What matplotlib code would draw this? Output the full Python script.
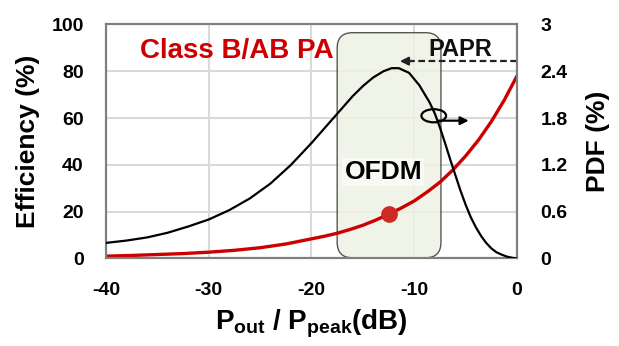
import matplotlib
matplotlib.use("Agg")
import matplotlib.pyplot as plt
from matplotlib.patches import FancyBboxPatch, Ellipse

plt.rcParams["font.family"] = ["Liberation Sans", "DejaVu Sans"]
plt.rcParams["font.weight"] = "bold"
plt.rcParams["axes.labelweight"] = "bold"
plt.rcParams["axes.unicode_minus"] = False
plt.rcParams["mathtext.fontset"] = "custom"
plt.rcParams["mathtext.rm"] = "Liberation Sans:bold"
plt.rcParams["mathtext.bf"] = "Liberation Sans:bold"
plt.rcParams["mathtext.it"] = "Liberation Sans:bold"

# efficiency of class B/AB PA (%)
eff_x = [-40, -37.5, -35, -32.5, -30, -27.5, -25, -22.5, -20, -18.75, -17.5,
         -16.25, -15, -13.75, -12.5, -11.25, -10, -8.75, -7.5, -6.25, -5,
         -3.75, -2.5, -1.25, 0]
eff_y = [1.0, 1.3, 1.7, 2.1, 2.7, 3.5, 4.6, 6.2, 8.4, 9.5, 10.8,
         12.4, 14.2, 16.4, 18.9, 21.6, 24.6, 28.4, 32.6, 37.8, 43.8,
         50.6, 58.5, 67.6, 78.0]

# OFDM signal PDF (%)
pdf_x = [-40, -38, -36, -34, -32, -30, -28, -26, -24, -22, -20, -19, -18, -17,
         -16, -15, -14, -13, -12.2, -11.5, -10.5, -9.5, -8.5, -8, -7.5, -7, -6.5,
         -6, -5.5, -5, -4.5, -4, -3.5, -3, -2.5, -2, -1.5, -1, -0.5, 0]
pdf_y = [0.20, 0.23, 0.27, 0.33, 0.41, 0.50, 0.62, 0.77, 0.96, 1.20, 1.48, 1.63,
         1.78, 1.93, 2.08, 2.21, 2.32, 2.40, 2.44, 2.44, 2.38, 2.22, 2.00, 1.86,
         1.68, 1.48, 1.27, 1.07, 0.87, 0.69, 0.53, 0.40, 0.29, 0.20, 0.13, 0.08,
         0.05, 0.025, 0.01, 0.0]

dot_x, dot_y = -12.5, 18.9
box_x0, box_x1 = -17.5, -7.4
box_y0, box_y1 = 0.3, 96.5
papr_y = 2.53
papr_tip = -11.4

fig = plt.figure(figsize=(6.19, 3.46), dpi=100)
ax = fig.add_axes([0.1712, 0.2529, 0.664, 0.6763])
ax2 = ax.twinx()

ax.set_xlim(-40, 0)
ax.set_ylim(0, 100)
ax2.set_ylim(0, 3)
ax.set_xticks([-40, -30, -20, -10, 0])
ax.set_yticks([0, 20, 40, 60, 80, 100])
ax2.set_yticks([0, 0.6, 1.2, 1.8, 2.4, 3])
ax2.set_yticklabels(["0", "0.6", "1.2", "1.8", "2.4", "3"])

ax.grid(True, color="#d9d9d9", linewidth=1.5, zorder=0)
ax.set_axisbelow(True)
for a in (ax, ax2):
    for s in a.spines.values():
        s.set_color("#7f7f7f")
        s.set_linewidth(1.5)
ax.tick_params(axis="both", length=0, labelsize=14)
ax.tick_params(axis="y", pad=16)
ax.tick_params(axis="x", pad=17)
ax2.tick_params(axis="y", length=0, labelsize=14, pad=17)

# OFDM region box (rounded, aspect corrected)
box = FancyBboxPatch((box_x0, box_y0), box_x1 - box_x0, box_y1 - box_y0,
                     boxstyle="round,pad=0,rounding_size=1.5",
                     mutation_aspect=4.39, facecolor="#eef2e3", alpha=0.85,
                     edgecolor="#3a3a3a", linewidth=1.0, zorder=1)
ax.add_patch(box)

ax.plot(eff_x, eff_y, color="#cc0000", linewidth=2.4, zorder=3)
ax.plot(dot_x, dot_y, "o", color="#cc2a22", markersize=11, zorder=4)

ax2.plot(pdf_x, pdf_y, color="black", linewidth=1.6, zorder=3)

# PAPR dashed arrow
ax2.plot([0, papr_tip + 0.9], [papr_y, papr_y], color="#222222",
         linestyle=(0, (3, 1.6)), linewidth=1.6)
ax2.annotate("", xy=(papr_tip, papr_y), xytext=(papr_tip + 1.0, papr_y),
             arrowprops=dict(arrowstyle="-|>", color="#222222", lw=1.6,
                             mutation_scale=12, shrinkA=0, shrinkB=0))
ax2.text(-5.5, 2.68, "PAPR", fontsize=17, ha="center", va="center",
         color="#111111")

# loop marking the right-axis curve
ax.add_patch(Ellipse((-8.1, 61), 2.4, 5.6, fill=False, edgecolor="black",
                     linewidth=1.6, zorder=5))
ax.annotate("", xy=(-4.7, 58.9), xytext=(-7.7, 58.9),
            arrowprops=dict(arrowstyle="-|>", color="black", lw=1.6,
                            mutation_scale=12, shrinkA=0, shrinkB=0),
            zorder=5)

ax.text(-13.0, 37, "OFDM", fontsize=19, ha="center", va="center",
        color="black", zorder=2,
        bbox=dict(facecolor="#f7f9f2", edgecolor="none", pad=1.5))
ax.text(-36.7, 88.5, "Class B/AB PA", fontsize=20, ha="left", va="center",
        color="#cc0000")

ax.set_ylabel("Efficiency (%)", fontsize=19, labelpad=8)
ax2.set_ylabel("PDF (%)", fontsize=19, labelpad=13)
ax.set_xlabel(r"$\mathbf{P_{out}}$ / $\mathbf{P_{peak}}$(dB)", fontsize=20,
              labelpad=6)

ax2.set_zorder(ax.get_zorder() + 1)
ax2.patch.set_visible(False)

fig.savefig("out.png", dpi=100)
